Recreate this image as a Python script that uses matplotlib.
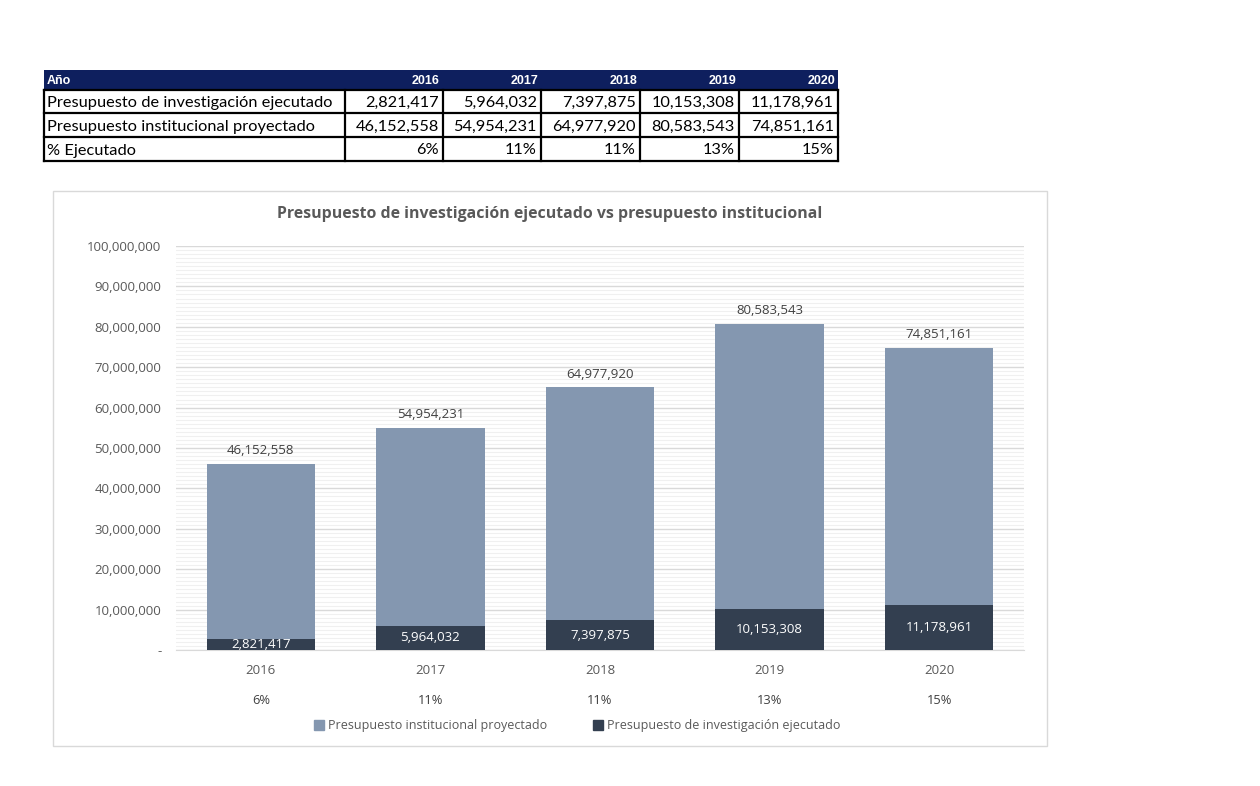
import matplotlib
matplotlib.use("Agg")
import matplotlib.pyplot as plt
from matplotlib.patches import Rectangle
from matplotlib.ticker import FuncFormatter, MultipleLocator
from matplotlib.lines import Line2D
from matplotlib.transforms import blended_transform_factory

years = ["2016", "2017", "2018", "2019", "2020"]
ejecutado = [2821417, 5964032, 7397875, 10153308, 11178961]
institucional = [46152558, 54954231, 64977920, 80583543, 74851161]
pct = ["6%", "11%", "11%", "13%", "15%"]
row_labels = ["Presupuesto de investigación ejecutado",
              "Presupuesto institucional proyectado",
              "% Ejecutado"]
title = "Presupuesto de investigación ejecutado vs presupuesto institucional"
legend_labels = ["Presupuesto institucional proyectado",
                 "Presupuesto de investigación ejecutado"]

C_INST = "#8497B0"
C_EJEC = "#333F50"
C_TXT = "#595959"
C_NAVY = "#0E1F5E"
FONT = "Open Sans"

W, H = 1260, 786
fig = plt.figure(figsize=(W / 100, H / 100), dpi=100)
fig.patch.set_facecolor("white")

# overlay axes in pixel coords
ov = fig.add_axes([0, 0, 1, 1])
ov.set_xlim(0, W)
ov.set_ylim(H, 0)
ov.axis("off")

# ---- table ----
col_edges = [44, 345, 443, 541, 640, 739, 838]
row_edges = [70, 90, 113, 137, 161]
ov.add_patch(Rectangle((col_edges[0], row_edges[0]), col_edges[-1] - col_edges[0],
                       row_edges[1] - row_edges[0], facecolor=C_NAVY, edgecolor="none"))
ov.text(col_edges[0] + 3, (row_edges[0] + row_edges[1]) / 2 + 0.5, "Año", color="white",
        fontsize=9, fontweight="bold", family="Liberation Sans", va="center", ha="left")
for j, y in enumerate(years):
    ov.text(col_edges[j + 2] - 3, (row_edges[0] + row_edges[1]) / 2 + 0.5, y, color="white",
            fontsize=9, fontweight="bold", family="Liberation Sans", va="center", ha="right")
fmt = lambda v: f"{v:,.0f}"
rows = [[fmt(v) for v in ejecutado], [fmt(v) for v in institucional], pct]
for i, (lab, vals) in enumerate(zip(row_labels, rows)):
    yc = (row_edges[i + 1] + row_edges[i + 2]) / 2 + 1.5
    ov.text(col_edges[0] + 3, yc, lab, color="black", fontsize=11.8, family="Lato",
            va="center", ha="left")
    for j, v in enumerate(vals):
        ov.text(col_edges[j + 2] - 4, yc, v, color="black", fontsize=11.8, family="Lato",
                va="center", ha="right")
lw = 1.6
for y in row_edges[1:]:
    ov.plot([col_edges[0], col_edges[-1]], [y, y], color="black", lw=lw, solid_capstyle="projecting")
for x in col_edges:
    ov.plot([x, x], [row_edges[1], row_edges[-1]], color="black", lw=lw, solid_capstyle="projecting")

# ---- chart box ----
ov.add_patch(Rectangle((53, 191), 1047 - 53, 746 - 191, facecolor="white",
                       edgecolor="#D9D9D9", lw=1.0))
ov.text(550, 214, title, color=C_TXT, fontsize=11.4, fontweight="bold", family=FONT,
        ha="center", va="center")

# ---- bar axes ----
L, R, T, B = 176, 1024, 246, 650
ax = fig.add_axes([L / W, 1 - B / H, (R - L) / W, (B - T) / H])
ax.set_facecolor("none")
x = list(range(len(years)))
bw = 0.64
b1 = ax.bar(x, institucional, width=bw, color=C_INST, zorder=3, label=legend_labels[0])
b2 = ax.bar(x, ejecutado, width=bw, color=C_EJEC, zorder=4, label=legend_labels[1])
ax.set_xlim(-0.5, len(years) - 0.5)
ax.set_ylim(0, 100_000_000)
ax.yaxis.set_major_locator(MultipleLocator(10_000_000))
ax.yaxis.set_minor_locator(MultipleLocator(1_000_000))
ax.yaxis.set_major_formatter(FuncFormatter(lambda v, p: "-" if v == 0 else f"{v:,.0f}"))
ax.grid(axis="y", which="major", color="#D9D9D9", lw=1.0, zorder=1)
ax.grid(axis="y", which="minor", color="#F0F0F0", lw=0.8, zorder=0)
for s in ["top", "right", "left"]:
    ax.spines[s].set_visible(False)
ax.spines["bottom"].set_color("#D9D9D9")
ax.tick_params(axis="both", which="both", length=0, colors=C_TXT, labelsize=9.5)
ax.tick_params(axis="y", pad=10.5)
ax.tick_params(axis="x", pad=10)
ax.set_xticks(x)
ax.set_xticklabels(years)
for t in ax.get_xticklabels() + ax.get_yticklabels():
    t.set_family(FONT)

ax.bar_label(b1, labels=[fmt(v) for v in institucional], padding=5, color="#404040",
             fontsize=9.5, family=FONT, zorder=6)
ax.bar_label(b2, labels=[fmt(v) for v in ejecutado], label_type="center", color="white",
             fontsize=9.5, family=FONT, zorder=6)

tr = blended_transform_factory(ax.transData, ax.transAxes)
for xi, p in zip(x, pct):
    ax.text(xi, -0.125, p, transform=tr, ha="center", va="center", color="#404040",
            fontsize=9.3, family=FONT)

handles = [Line2D([], [], marker="s", ls="none", color=C_INST, markersize=7),
           Line2D([], [], marker="s", ls="none", color=C_EJEC, markersize=7)]
ax.legend(handles, legend_labels, loc="center", bbox_to_anchor=(0.472, -0.188), ncol=2,
          frameon=False, handletextpad=0.2, columnspacing=3.6, handlelength=1.0,
          prop={"family": FONT, "size": 9.0}, labelcolor=C_TXT)

fig.savefig("out.png", dpi=100, facecolor="white")
